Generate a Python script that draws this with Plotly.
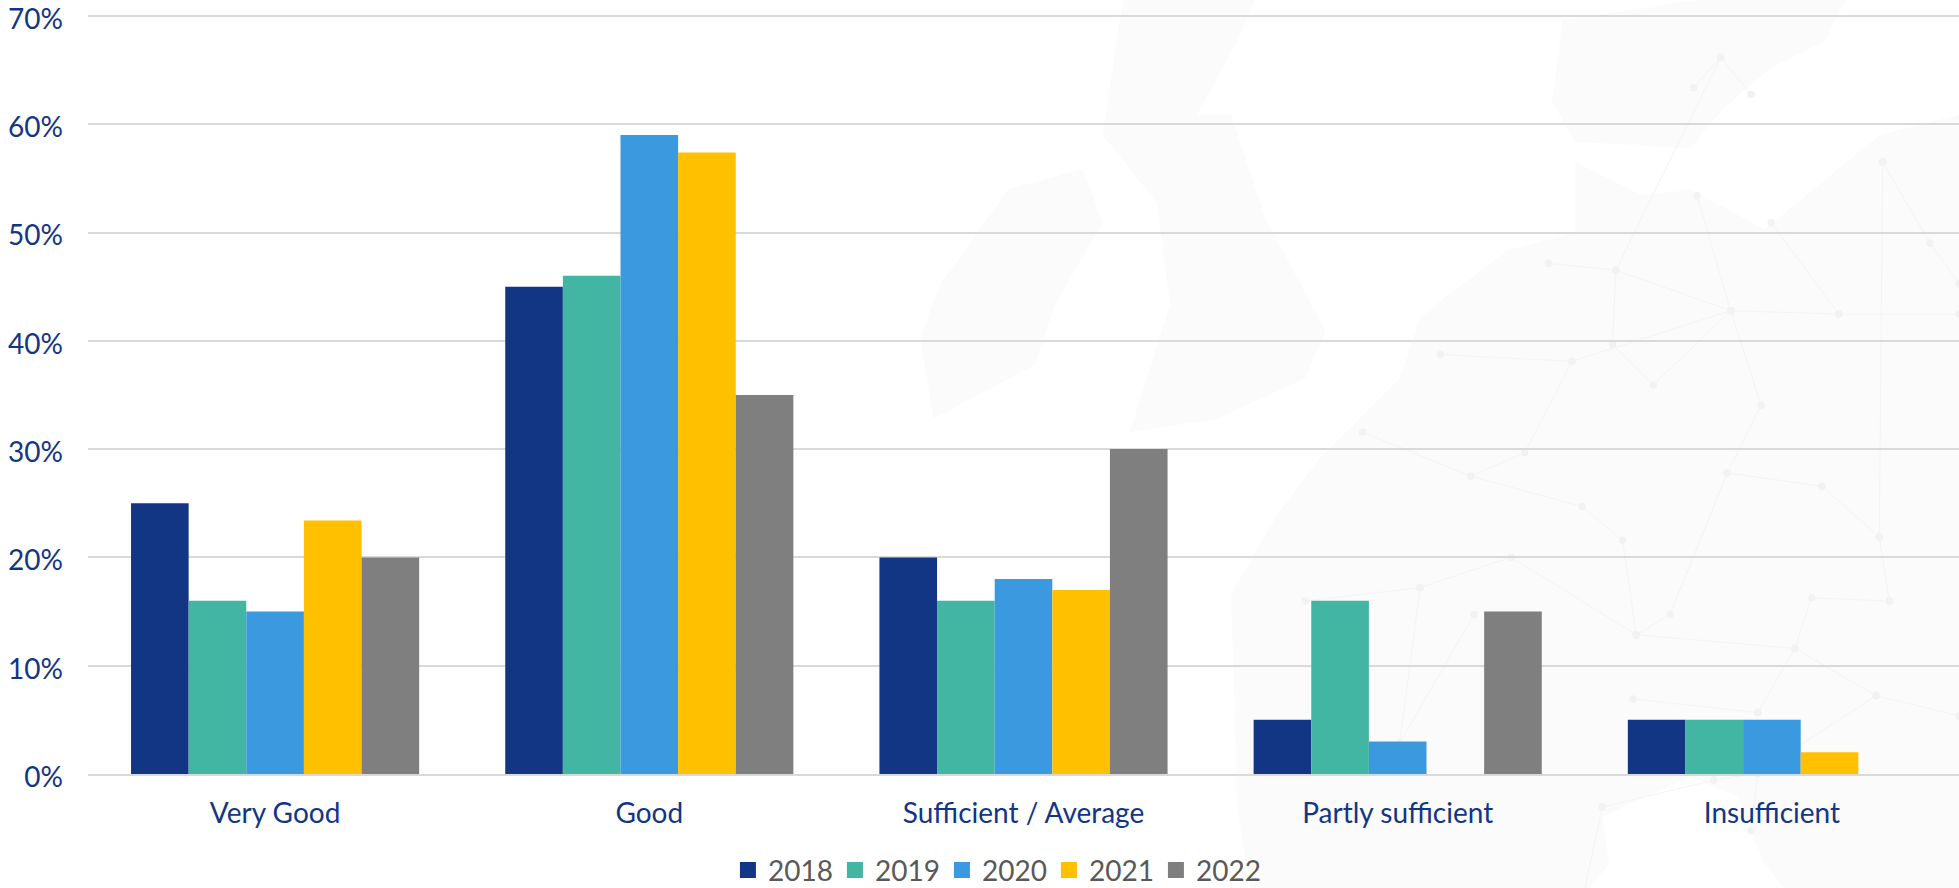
import plotly.graph_objects as go

categories = ["Very Good", "Good", "Sufficient / Average", "Partly sufficient", "Insufficient"]
years = ["2018", "2019", "2020", "2021", "2022"]
v2018 = [25, 45, 20, 5, 5]
v2019 = [16, 46, 16, 16, 5]
v2020 = [15, 59, 18, 3, 5]
v2021 = [23.4, 57.4, 17, 0, 2]
v2022 = [20, 35, 30, 15, 0]
colors = ["#133684", "#42B6A3", "#3A99DF", "#FFC000", "#7F7F7F"]
series = [v2018, v2019, v2020, v2021, v2022]

L, T, R, B = 88, 14, 0, 114
W, H = 1959, 888

# Faint decorative background map (outline sketched in a 1568-square crop of the right part)
def px(zx, zy):
    fx = 900 + zx / 1.4806
    fy = zy / 1.4806
    return (fx - L) / (W - L - R), 1 - (fy - T) / (H - T - B)

land = [
    [(980,30),(1180,0),(1400,0),(1370,60),(1290,100),(1220,160),(1170,220),(1000,210),(965,150),(975,80)],
    [(60,420),(160,280),(270,250),(300,330),(230,450),(200,540),(50,620),(30,500)],
    [(330,0),(525,0),(500,60),(440,170),(490,170),(540,320),(630,490),(600,560),(470,620),(340,640),(400,450),(380,300),(300,200)],
    [(740,560),(770,470),(820,430),(900,370),(1000,345),(1000,240),(1100,290),(1170,280),(1280,340),(1450,200),
     (1568,170),(1568,1568),(1480,1568),(1380,1400),(1280,1280),(1240,1180),(1170,1150),(1080,1190),(1040,1210),
     (1050,1280),(1000,1340),(900,1568),(560,1568),(500,1200),(490,880),(560,760),(620,680)],
]
edges = [
    [(1175,130),(1215,85),(1260,140)], [(1215,85),(1060,400),(1230,460),(1390,465),(1568,465)],
    [(960,390),(1060,400),(1055,510),(1115,570),(1230,460)], [(1180,290),(1230,460),(1275,600),(1225,700),(1365,720),(1450,795)],
    [(1290,330),(1390,465)], [(1455,240),(1525,360),(1568,420)], [(1455,240),(1450,795),(1465,890)],
    [(800,525),(995,535),(925,670),(845,705),(685,640)], [(995,535),(1230,460)], [(845,705),(1010,750),(1070,800),(1090,940)],
    [(600,890),(770,870),(905,825),(1090,940),(1140,910),(1225,700)], [(1090,940),(1325,960),(1445,1030),(1568,1060)],
    [(1465,890),(1350,885),(1325,960),(1270,1055),(1270,1145),(1205,1155),(1040,1195)], [(1085,1035),(1270,1055)],
    [(1445,1030),(1270,1145),(1260,1230)], [(1040,1195),(1000,1380),(1110,1480)], [(770,870),(740,1100),(850,910)],
]
shapes = []
for poly in land:
    pts = [px(*p) for p in poly]
    path = "M " + " L ".join(f"{x:.4f},{y:.4f}" for x, y in pts) + " Z"
    shapes.append(dict(type="path", xref="paper", yref="paper", path=path, fillcolor="#FBFBFB",
                       line=dict(width=0), layer="below"))
for e in edges:
    pts = [px(*p) for p in e]
    path = "M " + " L ".join(f"{x:.4f},{y:.4f}" for x, y in pts)
    shapes.append(dict(type="path", xref="paper", yref="paper", path=path, line=dict(color="#F4F4F4", width=1),
                       layer="below"))
    for x, y in pts:
        shapes.append(dict(type="circle", xref="paper", yref="paper", x0=x-0.002, x1=x+0.002,
                           y0=y-0.005, y1=y+0.005, fillcolor="#F2F2F2", line=dict(width=0), layer="below"))

fig = go.Figure()
for y, vals, c in zip(years, series, colors):
    fig.add_bar(name=y, x=categories, y=vals, marker=dict(color=c, line=dict(width=0)), showlegend=False)
for y, c in zip(years, colors):
    fig.add_scatter(name=y, x=[categories[0]], y=[None], mode="markers",
                    marker=dict(symbol="square", size=16, color=c))

fig.update_layout(
    template="none",
    width=W, height=H, autosize=False,
    paper_bgcolor="white", plot_bgcolor="rgba(0,0,0,0)",
    margin=dict(l=L, r=R, t=T, b=B, pad=0),
    barmode="group", bargap=0.23, bargroupgap=0,
    font=dict(family="Lato", size=28, color="#133684"),
    shapes=shapes,
    legend=dict(orientation="h", x=0.485, xanchor="center", y=0.02, yanchor="middle", yref="container",
                font=dict(size=28, color="#595959"), itemsizing="trace", entrywidth=62,
                bgcolor="rgba(0,0,0,0)"),
)
fig.update_xaxes(showline=True, linecolor="#D9D9D9", linewidth=2, ticks="", showgrid=False,
                 tickfont=dict(size=28, color="#133684"), automargin=False, ticklabelstandoff=13)
fig.update_yaxes(range=[0, 70.18], tickvals=[0, 10, 20, 30, 40, 50, 60, 70],
                 ticktext=["0%", "10%", "20%", "30%", "40%", "50%", "60%", "70%"],
                 showgrid=True, gridcolor="#D9D9D9", gridwidth=1.5, showline=False,
                 zeroline=False, tickfont=dict(size=28, color="#133684"), ticks="", automargin=False,
                 ticklabelstandoff=24, ticklabelshift=3, ticklabeloverflow="allow")
fig.write_html("out.html", post_script="document.body.style.margin='0';", config={"displayModeBar": False})
